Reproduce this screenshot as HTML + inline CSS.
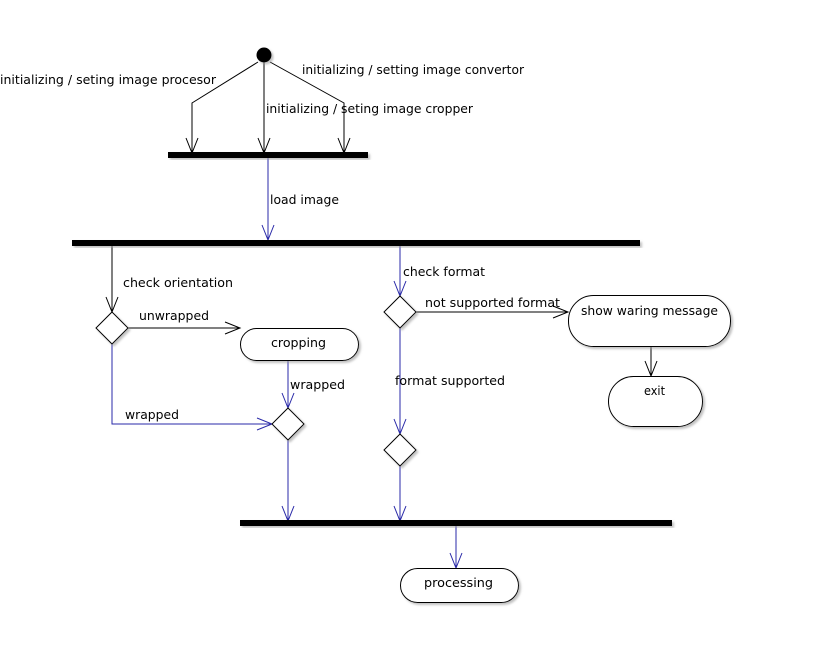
<!DOCTYPE html>
<html><head><style>html,body{margin:0;padding:0;background:#fff;}svg{display:block}</style></head>
<body>
<svg width="827" height="651" xmlns="http://www.w3.org/2000/svg" font-family="DejaVu Sans, Liberation Sans, sans-serif" font-size="12">
<defs>
<filter id="sh" x="-10%" y="-10%" width="130%" height="140%"><feDropShadow dx="2" dy="2" stdDeviation="1" flood-color="#999" flood-opacity="0.6"/></filter>
</defs>
<g fill="none" stroke="#000" stroke-width="1">
<path d="M258,62 L192,103 L192,153"/>
<path d="M264,55 L264,153"/>
<path d="M270,62 L344,103 L344,153"/>
<path d="M186,138 L192,153 L198,138 M258,138 L264,153 L270,138 M338,138 L344,153 L350,138"/>
<path d="M112,246 L112,312 M106,297 L112,312 L118,297"/>
<path d="M128,328 L240,328 M225,322 L240,328 L225,334"/>
<path d="M416,312 L568,312 M553,306 L568,312 L553,318"/>
<path d="M651,346 L651,376 M645,361 L651,376 L657,361"/>
</g>
<g fill="none" stroke="#2a2aa8" stroke-width="1">
<path d="M268,157 L268,240 M262,225 L268,240 L274,225"/>
<path d="M400,246 L400,296 M394,281 L400,296 L406,281"/>
<path d="M288,360 L288,408 M282,393 L288,408 L294,393"/>
<path d="M112,344 L112,424 L272,424 M257,418 L272,424 L257,430"/>
<path d="M288,440 L288,521 M282,506 L288,521 L294,506"/>
<path d="M400,328 L400,434 M394,419 L400,434 L406,419"/>
<path d="M400,466 L400,521 M394,506 L400,521 L406,506"/>
<path d="M456,526 L456,568 M450,553 L456,568 L462,553"/>
</g>
<circle cx="264" cy="55" r="7.5" fill="#000" filter="url(#sh)"/>
<rect x="168" y="152" width="200" height="6" fill="#000" filter="url(#sh)"/>
<rect x="72" y="240" width="568" height="6" fill="#000" filter="url(#sh)"/>
<rect x="240" y="520" width="432" height="6" fill="#000" filter="url(#sh)"/>
<g fill="#fff" stroke="#000" filter="url(#sh)">
<path d="M112,312 L128,328 L112,344 L96,328 Z"/>
<path d="M288,408 L304,424 L288,440 L272,424 Z"/>
<path d="M400,296 L416,312 L400,328 L384,312 Z"/>
<path d="M400,434 L416,450 L400,466 L384,450 Z"/>
<rect x="240.5" y="328.5" width="118" height="32" rx="16"/>
<rect x="568.5" y="295.5" width="162" height="51" rx="25"/>
<rect x="608.5" y="376.5" width="94" height="50" rx="25"/>
<rect x="400.5" y="568.5" width="118" height="34" rx="17"/>
</g>
<g fill="#000">
<text x="0" y="84" textLength="216" lengthAdjust="spacingAndGlyphs">initializing / seting  image procesor</text>
<text x="302" y="74" textLength="222" lengthAdjust="spacingAndGlyphs">initializing / setting image convertor</text>
<text x="266" y="113" textLength="207" lengthAdjust="spacingAndGlyphs">initializing / seting image cropper</text>
<text x="270" y="204" textLength="69" lengthAdjust="spacingAndGlyphs">load image</text>
<text x="123" y="287" textLength="110" lengthAdjust="spacingAndGlyphs">check orientation</text>
<text x="403" y="276" textLength="82" lengthAdjust="spacingAndGlyphs">check format</text>
<text x="139" y="320" textLength="70" lengthAdjust="spacingAndGlyphs">unwrapped</text>
<text x="425" y="307" textLength="135" lengthAdjust="spacingAndGlyphs">not supported format</text>
<text x="581" y="315" textLength="137" lengthAdjust="spacingAndGlyphs">show waring message</text>
<text x="271" y="347" textLength="55" lengthAdjust="spacingAndGlyphs">cropping</text>
<text x="290" y="389" textLength="55" lengthAdjust="spacingAndGlyphs">wrapped</text>
<text x="395" y="385" textLength="110" lengthAdjust="spacingAndGlyphs">format supported</text>
<text x="644" y="395" textLength="21" lengthAdjust="spacingAndGlyphs">exit</text>
<text x="125" y="419" textLength="54" lengthAdjust="spacingAndGlyphs">wrapped</text>
<text x="424" y="587" textLength="69" lengthAdjust="spacingAndGlyphs">processing</text>
</g>
</svg>
</body></html>
